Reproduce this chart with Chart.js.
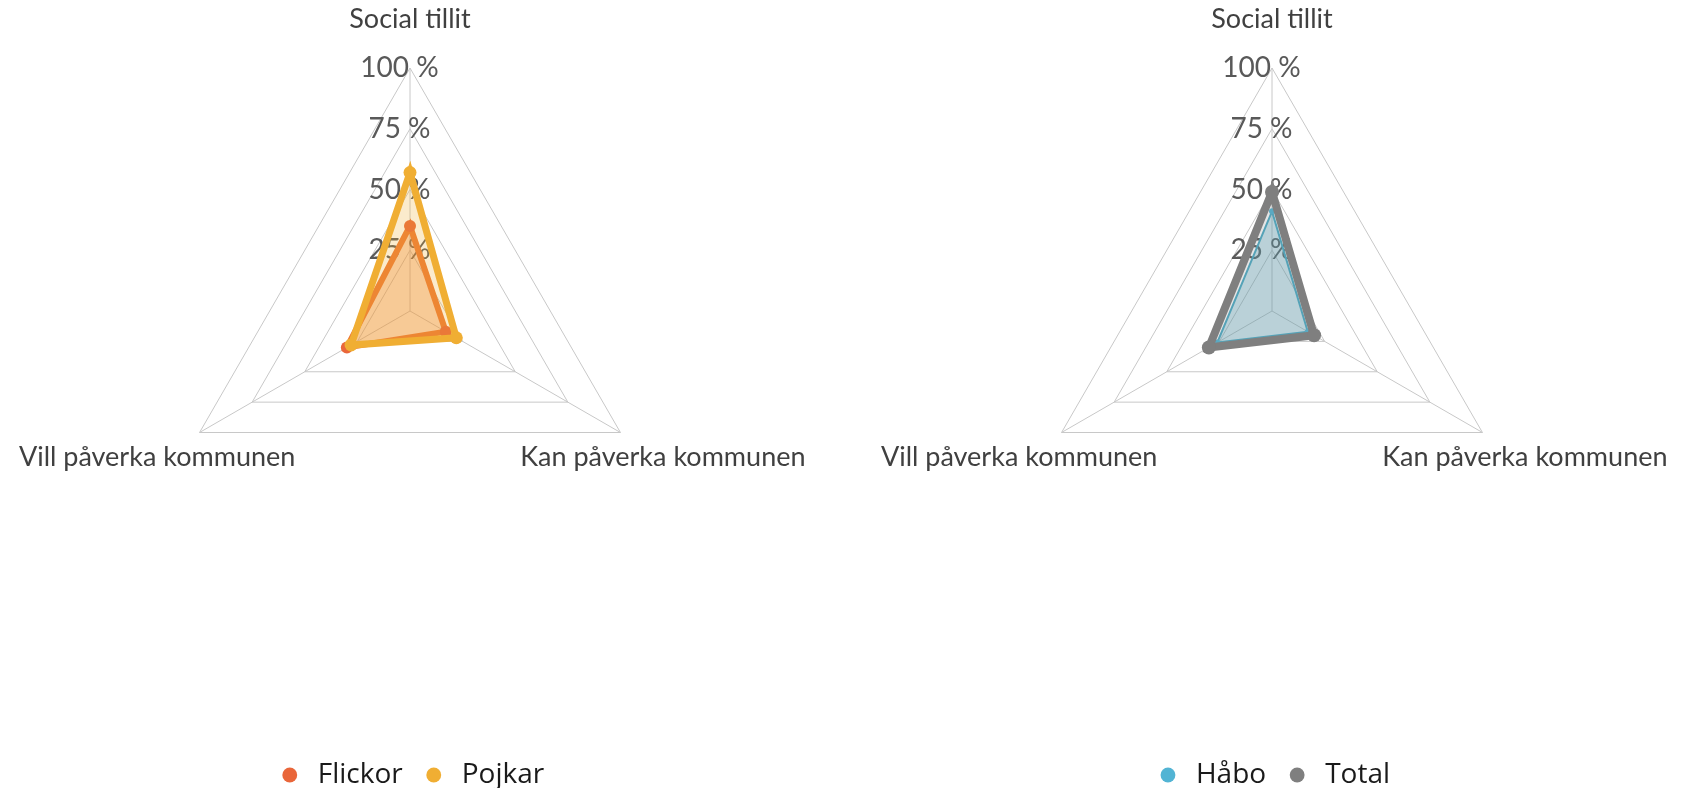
<!DOCTYPE html>
<html>
<head>
<meta charset="utf-8">
<script src="https://cdn.jsdelivr.net/npm/chart.js@4.4.1/dist/chart.umd.min.js"></script>
<style>
  html, body { margin: 0; padding: 0; background: #fff; overflow: hidden; }
  .box { position: absolute; top: 0; width: 820px; height: 799px; }
  #left { left: 0; }
  #right { left: 862px; }
</style>
</head>
<body>
<div class="box" id="left"><canvas id="chartLeft"></canvas></div>
<div class="box" id="right"><canvas id="chartRight"></canvas></div>
<script>
// axes of the radar, clockwise from the top
const categories = ['Social tillit', 'Kan påverka kommunen', 'Vill påverka kommunen'];
const tickValues = [0, 25, 50, 75, 100];

// percent values
const flickor = [35, 17, 30];
const pojkar = [57, 22, 28];
const habo = [41, 17, 26];
const total = [49, 20, 30];

// where Excel put the web: top corner at y=68, radius 243
const webTop = 68;
const webRadius = 243;

Chart.defaults.font.family = 'Lato';

// Excel puts the axis names a bit further out and centred on the corner
const axisLabels = {
    id: 'axisLabels',
    afterDraw(chart) {
        const scale = chart.scales.r;
        const ctx = chart.ctx;
        ctx.save();
        ctx.font = '27px Lato';
        ctx.fillStyle = '#404040';
        ctx.textAlign = 'center';
        ctx.textBaseline = 'middle';
        chart.data.labels.forEach((label, i) => {
            const p = scale.getPointPosition(i, scale.drawingArea + 49);
            ctx.fillText(label, p.x, p.y);
        });
        ctx.restore();
    }
};

function makeDataset(label, data, line, point, fill, width, radius, order) {
    return {
        label: label,
        data: data,
        borderColor: line,
        backgroundColor: fill,
        pointBackgroundColor: point,
        pointBorderWidth: 0,
        pointRadius: radius,
        borderWidth: width,
        fill: true,
        order: order
    };
}

function makeChart(id, datasets) {
    return new Chart(document.getElementById(id), {
        type: 'radar',
        data: {
            labels: categories,
            datasets: datasets
        },
        options: {
            responsive: true,
            maintainAspectRatio: false,
            animation: false,
            scales: {
                r: {
                    min: 0,
                    max: 100,
                    afterBuildTicks: (scale) => {
                        scale.ticks = tickValues.map(v => ({ value: v }));
                    },
                    afterFit: (scale) => {
                        scale.drawingArea = webRadius;
                        scale.yCenter = webTop + webRadius;
                    },
                    ticks: {
                        showLabelBackdrop: false,
                        color: '#595959',
                        font: { size: 28 },
                        callback: (v) => v + ' %\u2003'
                    },
                    pointLabels: { display: false },
                    grid: { color: '#c8c8c8', lineWidth: 1 },
                    angleLines: { color: '#c8c8c8', lineWidth: 1 }
                }
            },
            plugins: {
                tooltip: { enabled: false },
                legend: {
                    position: 'bottom',
                    labels: {
                        usePointStyle: true,
                        pointStyle: 'circle',
                        boxWidth: 28,
                        boxHeight: 10.5,
                        padding: 17,
                        color: '#1a1a1a',
                        font: { family: 'Open Sans', size: 28 },
                        sort: (a, b) => a.datasetIndex - b.datasetIndex,
                        generateLabels: (chart) => {
                            const items = Chart.defaults.plugins.legend.labels.generateLabels(chart);
                            items.forEach(it => {
                                const ds = chart.data.datasets[it.datasetIndex];
                                it.fillStyle = ds.pointBackgroundColor;
                                it.strokeStyle = ds.pointBackgroundColor;
                                it.lineWidth = 0;
                            });
                            return items;
                        }
                    }
                }
            }
        },
        plugins: [axisLabels]
    });
}

// later series on top, like in Excel
makeChart('chartLeft', [
    makeDataset('Flickor', flickor, '#ED7833', '#E9663A', 'rgba(237,125,49,0.35)', 6, 6, 1),
    makeDataset('Pojkar', pojkar, '#F0AE33', '#F0AE33', 'rgba(240,176,50,0.25)', 7, 6.5, 0)
]);

makeChart('chartRight', [
    makeDataset('Håbo', habo, '#4BACC6', '#52B4D4', 'rgba(75,172,198,0.3)', 2, 3, 1),
    makeDataset('Total', total, '#7F7F7F', '#7F7F7F', 'rgba(127,127,127,0.2)', 8, 7, 0)
]);
</script>
</body>
</html>
